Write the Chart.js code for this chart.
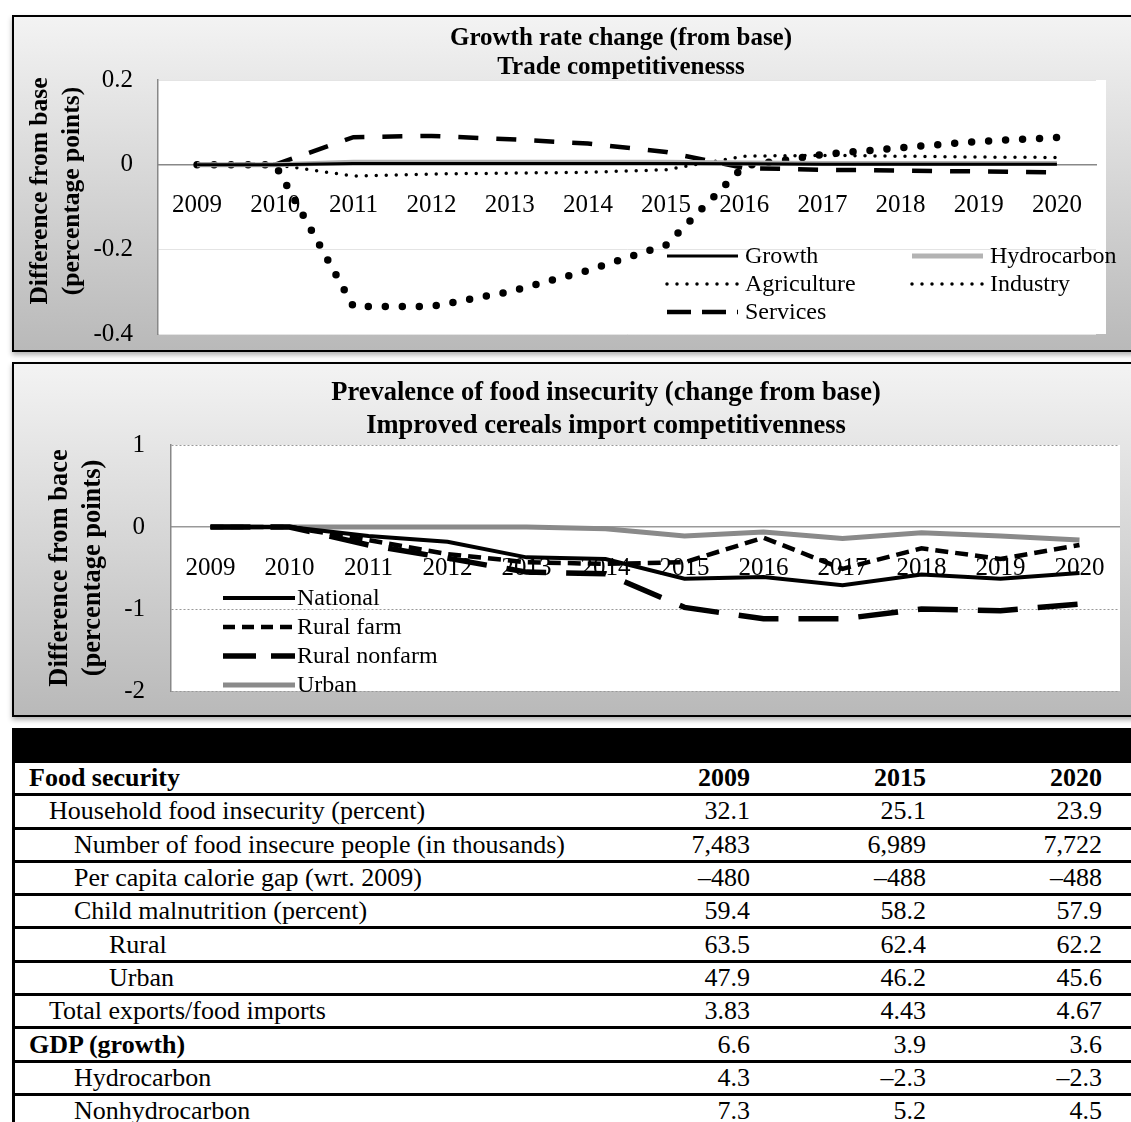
<!DOCTYPE html>
<html>
<head>
<meta charset="utf-8">
<script src="https://cdn.jsdelivr.net/npm/chart.js@4.4.1/dist/chart.umd.min.js"></script>
<style>
html, body { margin: 0; padding: 0; background: #fff; width: 1131px; height: 1122px; overflow: hidden;
  font-family: 'Liberation Serif', 'Times New Roman', serif; }
.frame { position: absolute; left: 12px; width: 1260px; border: 2px solid #000; overflow: hidden;
  background: linear-gradient(to bottom, #f3f3f3, #b9b9b9); box-shadow: 0 3px 5px rgba(0,0,0,.3); }
#f1 { top: 15px; height: 333px; }
#f2 { top: 362px; height: 351px; }
.frame canvas { position: absolute; left: 0; top: 0; }
#tbl { position: absolute; left: 12px; top: 728px; width: 1260px; border-left: 3px solid #000; }
table { border-collapse: separate; border-spacing: 0; table-layout: fixed; width: 1257px; font-size: 26px; }
td { padding: 0; height: 30.3px; line-height: 30px; border-bottom: 3px solid #000; white-space: nowrap; overflow: hidden; }
tr.bar td { background: #000; height: 35px; border-bottom: none; }
td.n { text-align: right; }
.b { font-weight: bold; }
</style>
</head>
<body>
<div class="frame" id="f1"><canvas id="c1" width="1214" height="333"></canvas></div>
<div class="frame" id="f2"><canvas id="c2" width="1184" height="351"></canvas></div>
<div id="tbl"><table id="t"></table></div>
<script>
// ---- chart 1: growth rate change ----
const years = ['2009', '2010', '2011', '2012', '2013', '2014', '2015', '2016', '2017', '2018', '2019', '2020'];
const growth      = [0, 0, 0.003, 0.003, 0.003, 0.003, 0.003, 0.002, 0.001, 0.001, 0.001, 0.001];
const hydrocarbon = [0, 0, 0.006, 0.006, 0.006, 0.006, 0.006, 0.004, 0.003, 0.003, 0.003, 0.003];
const agriculture = [0, 0, -0.027, -0.022, -0.02, -0.018, -0.012, 0.02, 0.022, 0.02, 0.018, 0.017];
const industry    = [0, 0, -0.335, -0.335, -0.30, -0.25, -0.19, -0.003, 0.024, 0.04, 0.055, 0.064];
const services    = [0, 0, 0.065, 0.068, 0.06, 0.05, 0.03, -0.008, -0.012, -0.014, -0.016, -0.018];

// ---- chart 2: food insecurity ----
const national     = [0, 0, -0.11, -0.18, -0.37, -0.39, -0.63, -0.61, -0.71, -0.58, -0.63, -0.56];
const ruralFarm    = [0, 0, -0.16, -0.33, -0.43, -0.45, -0.43, -0.13, -0.51, -0.26, -0.39, -0.22];
const ruralNonfarm = [0, 0, -0.22, -0.38, -0.55, -0.57, -0.98, -1.12, -1.12, -1.0, -1.02, -0.94];
const urban        = [0, 0, 0, 0, 0, -0.02, -0.11, -0.06, -0.14, -0.07, -0.11, -0.16];

// ---- table ----
const rowLabels = ['Food security', 'Household food insecurity (percent)', 'Number of food insecure people (in thousands)',
  'Per capita calorie gap (wrt. 2009)', 'Child malnutrition (percent)', 'Rural', 'Urban',
  'Total exports/food imports', 'GDP (growth)', 'Hydrocarbon', 'Nonhydrocarbon'];
const rowLevel = [0, 1, 2, 2, 2, 3, 3, 1, 0, 2, 2];
const col2009 = ['2009', '32.1', '7,483', '–480', '59.4', '63.5', '47.9', '3.83', '6.6', '4.3', '7.3'];
const col2015 = ['2015', '25.1', '6,989', '–488', '58.2', '62.4', '46.2', '4.43', '3.9', '–2.3', '5.2'];
const col2020 = ['2020', '23.9', '7,722', '–488', '57.9', '62.2', '45.6', '4.67', '3.6', '–2.3', '4.5'];

const serif = "'Liberation Serif', 'Times New Roman', serif";
Chart.defaults.font.family = serif;
Chart.defaults.color = '#000';

const whiteArea = extra => ({
  id: 'whiteArea',
  beforeDraw(c) {
    const a = c.chartArea, ctx = c.ctx;
    ctx.save();
    ctx.fillStyle = '#fff';
    ctx.fillRect(a.left, a.top, a.right - a.left + extra, a.bottom - a.top);
    ctx.restore();
  }
});

// two-line heading, centred over a chosen x
const heading = (lines, cx, y0, lh, size) => ({
  id: 'heading',
  afterDraw(c) {
    const ctx = c.ctx;
    ctx.save();
    ctx.font = 'bold ' + size + 'px ' + serif;
    ctx.textAlign = 'center';
    ctx.textBaseline = 'middle';
    ctx.fillStyle = '#000';
    lines.forEach((s, i) => ctx.fillText(s, cx, y0 + i * lh));
    ctx.restore();
  }
});

const makeLegend = o => ({
  id: 'boxLegend',
  afterDraw(c) {
    const ctx = c.ctx;
    ctx.save();
    ctx.font = '24px ' + serif;
    ctx.textBaseline = 'middle';
    ctx.fillStyle = '#000';
    c.data.datasets.forEach((ds, i) => {
      const x = o.x + (i % o.cols) * o.colW;
      const y = o.y + Math.floor(i / o.cols) * o.rowH;
      ctx.beginPath();
      ctx.setLineDash(ds.legendDash || ds.borderDash || []);
      ctx.lineWidth = ds.legendWidth || ds.borderWidth;
      ctx.lineCap = ds.borderCapStyle || 'butt';
      ctx.strokeStyle = ds.borderColor;
      ctx.moveTo(x, y);
      ctx.lineTo(x + o.len, y);
      ctx.stroke();
      ctx.setLineDash([]);
      ctx.fillText(ds.label, x + o.len + o.gap, y + 1);
    });
    ctx.restore();
  }
});

new Chart(document.getElementById('c1'), {
  type: 'line',
  data: {
    labels: years,
    datasets: [
      { label: 'Growth', data: growth, borderColor: '#000', borderWidth: 3 },
      { label: 'Hydrocarbon', data: hydrocarbon, borderColor: '#b3b3b3', borderWidth: 5 },
      { label: 'Agriculture', data: agriculture, borderColor: '#000', borderWidth: 3.5, borderDash: [0, 10], borderCapStyle: 'round' },
      { label: 'Industry', data: industry, borderColor: '#000', borderWidth: 7.5, borderDash: [0, 17], borderCapStyle: 'round',
        legendDash: [0, 10], legendWidth: 3.5 },
      { label: 'Services', data: services, borderColor: '#000', borderWidth: 4.5, borderDash: [20, 18], legendDash: [24, 11] }
    ]
  },
  options: {
    responsive: false,
    animation: false,
    elements: { point: { radius: 0 }, line: { tension: 0 } },
    layout: { padding: { left: 0, top: 63, right: 132, bottom: 16 } },
    plugins: { legend: { display: false }, tooltip: { enabled: false } },
    scales: {
      x: {
        position: { y: 0 },
        offset: true,
        grid: { display: false, drawTicks: false },
        border: { color: '#888', width: 1.5 },
        ticks: { padding: 26, font: { size: 25 }, maxRotation: 0, autoSkip: false },
        afterFit(s) { s.height = 0; }
      },
      y: {
        min: -0.4,
        max: 0.2,
        ticks: { stepSize: 0.2, padding: 25, font: { size: 25 }, callback: v => String(Math.round(v * 10) / 10) },
        grid: { drawTicks: false, color: ctx => ctx.tick && ctx.tick.value === 0 ? '#888' : '#e4e4e4' },
        border: { color: '#888', width: 1.5 },
        title: {
          display: true,
          text: ['     Difference from base', '     (percentage points)'],
          font: { size: 25.5, weight: 'bold', lineHeight: 1.26 },
          padding: { top: 10, bottom: 0 }
        },
        afterFit(s) { s.width = 144; s.paddingTop = 0; s.paddingBottom = 0; }
      }
    }
  },
  plugins: [whiteArea(10), heading(['Growth rate change (from base)', 'Trade competitivenesss'], 607, 22, 29, 25),
    makeLegend({ x: 653, y: 239, cols: 2, colW: 245, rowH: 28, len: 71, gap: 7 })]
});

new Chart(document.getElementById('c2'), {
  type: 'line',
  data: {
    labels: years,
    datasets: [
      { label: 'National', data: national, borderColor: '#000', borderWidth: 4 },
      { label: 'Rural farm', data: ruralFarm, borderColor: '#000', borderWidth: 4.5, borderDash: [13, 7], legendDash: [12, 7] },
      { label: 'Rural nonfarm', data: ruralNonfarm, borderColor: '#000', borderWidth: 5.5, borderDash: [40, 20], legendDash: [33, 15] },
      { label: 'Urban', data: urban, borderColor: '#8a8a8a', borderWidth: 5 }
    ]
  },
  options: {
    responsive: false,
    animation: false,
    elements: { point: { radius: 0 }, line: { tension: 0 } },
    layout: { padding: { left: 0, top: 81, right: 79, bottom: 24 } },
    plugins: { legend: { display: false }, tooltip: { enabled: false } },
    scales: {
      x: {
        position: { y: 0 },
        offset: true,
        grid: { display: false, drawTicks: false },
        border: { color: '#999', width: 1.5 },
        ticks: { padding: 26, font: { size: 25 }, maxRotation: 0, autoSkip: false },
        afterFit(s) { s.height = 0; }
      },
      y: {
        min: -2,
        max: 1,
        ticks: { stepSize: 1, padding: 26, font: { size: 25 }, callback: v => String(v) },
        grid: { drawTicks: false, color: ctx => ctx.tick && ctx.tick.value === 0 ? 'rgba(0,0,0,0)' : '#999' },
        border: { color: '#888', width: 1.5, dash: [2, 2] },
        title: {
          display: true,
          text: ['Difference from bace', '(percentage points)'],
          font: { size: 26.5, weight: 'bold', lineHeight: 1.24 },
          padding: { top: 30, bottom: 0 }
        },
        afterFit(s) { s.width = 157; s.paddingTop = 0; s.paddingBottom = 0; }
      }
    }
  },
  plugins: [whiteArea(1),
    heading(['Prevalence of food insecurity (change from base)', 'Improved cereals import competitivenness'], 592, 29, 33, 26.5),
    makeLegend({ x: 209, y: 234, cols: 1, colW: 0, rowH: 29, len: 72, gap: 2 })]
});

// table
const indentPx = [14, 34, 59, 94];
const t = document.getElementById('t');
t.innerHTML = '<colgroup><col style="width:565px"><col style="width:170px"><col style="width:176px"><col style="width:176px"><col></colgroup>' +
  '<tr class="bar"><td></td><td></td><td></td><td></td><td></td></tr>';
rowLabels.forEach((lab, i) => {
  const tr = document.createElement('tr');
  const bold = rowLevel[i] === 0;
  const head = i === 0;
  tr.innerHTML = '<td style="padding-left:' + indentPx[rowLevel[i]] + 'px"' + (bold ? ' class="b"' : '') + '>' + lab + '</td>' +
    [col2009[i], col2015[i], col2020[i]].map(v => '<td class="n' + (head ? ' b' : '') + '">' + v + '</td>').join('') + '<td></td>';
  t.appendChild(tr);
});
</script>
</body>
</html>
